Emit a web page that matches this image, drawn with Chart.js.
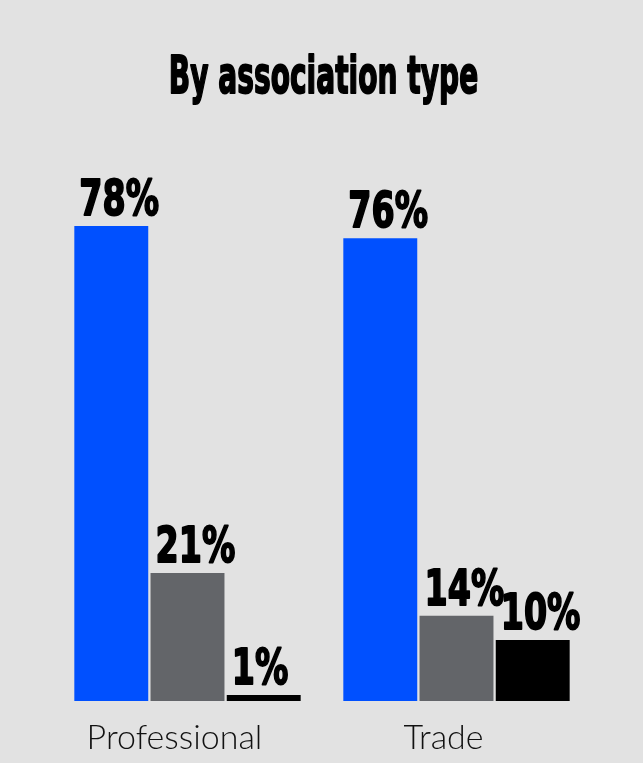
<!DOCTYPE html>
<html>
<head>
<meta charset="utf-8">
<script src="https://cdn.jsdelivr.net/npm/chart.js@4"></script>
<style>
  html, body { margin: 0; padding: 0; background: #e2e2e2; }
  #wrap { width: 643px; height: 763px; }
</style>
</head>
<body>
<div id="wrap"><canvas id="assocChart" width="643" height="763"></canvas></div>
<script>
const categories = ["Professional", "Trade"];
const firstShare = [78, 76];
const secondShare = [21, 14];
const thirdShare = [1, 10];
const titleText = "By association type";

// heavy condensed text: bold face squeezed horizontally
function drawNarrow(ctx, text, x, y, size, squeeze, align) {
  ctx.save();
  ctx.font = `bold ${size}px "DejaVu Sans"`;
  ctx.textBaseline = "alphabetic";
  ctx.fillStyle = "#000";
  ctx.strokeStyle = "#000";
  ctx.lineWidth = 2;
  ctx.lineJoin = "round";
  ctx.translate(x, y);
  ctx.scale(squeeze, 1);
  const w = ctx.measureText(text).width;
  const dx = align === "center" ? -w / 2 : 0;
  ctx.fillText(text, dx, 0);
  ctx.strokeText(text, dx, 0);
  ctx.restore();
}

const narrowLabels = {
  id: "narrowLabels",
  afterDatasetsDraw(chart) {
    const ctx = chart.ctx;
    drawNarrow(ctx, titleText, chart.width / 2 + 2, 93, 52, 0.54, "center");
    chart.data.datasets.forEach((ds, i) => {
      chart.getDatasetMeta(i).data.forEach((bar, j) => {
        const left = bar.x - bar.width / 2;
        drawNarrow(ctx, ds.data[j] + "%", left + 5, bar.y - 11, 49, 0.68, "left");
      });
    });
  }
};

new Chart(document.getElementById("assocChart"), {
  type: "bar",
  data: {
    labels: categories,
    datasets: [
      { label: "first", data: firstShare, backgroundColor: "#0050ff" },
      { label: "second", data: secondShare, backgroundColor: "#636569" },
      { label: "third", data: thirdShare, backgroundColor: "#000000" },
    ],
  },
  options: {
    responsive: false,
    animation: false,
    layout: { padding: { top: 92, left: 53, right: 52, bottom: 0 } },
    categoryPercentage: 0.85,
    barPercentage: 0.97,
    plugins: {
      legend: { display: false },
      tooltip: { enabled: false },
    },
    scales: {
      y: { display: false, min: 0, max: 100 },
      x: {
        grid: { display: false },
        border: { display: false },
        afterFit(scale) { scale.height = 62; },
        ticks: {
          color: "#111",
          padding: 9,
          labelOffset: -13,
          font: { family: "Lato", size: 34, weight: 300, lineHeight: 1.2 },
        },
      },
    },
  },
  plugins: [narrowLabels],
});
</script>
</body>
</html>
